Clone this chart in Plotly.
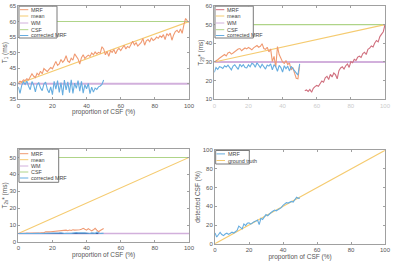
import plotly.graph_objects as go

# ---------------- data ----------------
x_full = list(range(0, 101))
x_half = list(range(0, 51))
x_tail = list(range(53, 101))

t1_mrf = [40.3,40.8,40.5,41.2,41.0,41.6,41.2,42.5,43.2,42.4,
          42.0,43.4,42.8,44.0,43.2,44.9,44.3,43.9,44.6,45.2,
          44.8,46.3,47.2,45.9,46.4,47.8,46.9,47.6,49.0,47.3,
          46.9,48.2,47.6,49.6,48.8,48.0,46.3,48.4,49.3,48.1,
          48.7,49.2,48.8,49.9,49.3,50.2,49.6,50.1,49.8,51.9,
          51.2,49.3,50.4,48.8,50.6,50.1,51.0,49.6,50.8,51.4,
          50.7,51.8,52.4,51.2,52.0,51.6,52.8,53.7,52.5,53.2,
          52.1,52.9,53.3,54.6,52.4,53.8,54.2,53.5,54.8,53.9,
          54.3,55.0,54.6,55.4,54.9,55.8,54.2,56.1,55.5,56.3,
          54.0,55.7,56.8,57.2,56.4,57.6,56.2,58.9,61.0,60.2,
          59.8]
t1_corr = [39.0,36.9,39.5,40.6,39.8,40.9,39.2,38.1,40.7,39.6,
           37.4,39.8,40.3,38.6,37.8,39.9,40.5,38.2,37.1,39.0,
           36.5,40.8,38.3,41.0,37.2,40.4,36.3,41.2,38.0,40.6,
           37.1,41.3,36.9,40.2,38.5,41.0,37.6,40.8,37.0,39.7,
           38.4,40.1,36.8,38.9,37.3,38.6,38.2,39.0,39.3,39.8,
           41.2]
t1_wm, t1_csf = 40, 60

t2_mrf = [30.0,30.5,31.2,32.0,32.8,33.5,34.0,33.2,34.8,35.3,
          34.2,34.8,35.6,36.3,36.9,37.2,36.0,36.8,37.5,37.0,
          37.8,37.2,36.5,37.6,38.2,38.8,37.9,38.4,39.8,37.2,
          36.8,37.9,35.4,37.0,30.2,33.0,27.2,38.3,34.0,31.5,
          30.0,29.2,30.8,28.6,29.5,25.8,27.1,24.0,21.3,21.0,
          28.2]
t2_mrf_tail = [14.6,15.0,14.2,15.3,13.8,15.9,16.8,17.4,
               17.0,18.6,19.8,19.2,21.5,22.3,20.6,23.4,22.0,24.1,
               23.2,21.0,25.3,26.8,27.4,26.2,28.0,28.9,27.1,30.2,
               29.6,31.4,30.8,32.6,33.1,32.4,34.5,35.2,34.0,36.8,
               37.4,38.6,38.0,40.2,41.5,40.8,43.6,44.9,46.2,50.0]
t2_corr = [24.5,27.0,26.0,27.5,27.2,26.5,28.0,27.3,28.3,27.0,
           25.8,27.8,28.5,27.2,26.0,28.8,27.5,28.6,27.0,26.8,
           28.5,27.4,29.3,28.8,27.2,29.6,28.3,27.0,28.8,27.6,
           26.2,28.4,27.8,29.0,25.8,28.6,27.4,25.0,28.2,27.0,
           24.6,28.0,26.4,27.8,25.2,27.6,26.4,24.8,23.6,23.0,
           29.0]
t2_wm, t2_csf = 30, 50

t2s_mrf = [5.0,5.0,5.1,5.0,5.1,5.2,5.1,5.2,5.2,5.3,
           5.3,5.4,5.3,5.4,5.5,5.5,6.0,5.8,6.0,6.1,
           6.2,6.2,6.4,6.5,6.6,6.9,7.1,6.8,7.0,6.7,
           7.1,6.8,7.2,7.0,7.0,7.1,7.2,7.6,8.1,7.5,
           7.0,7.9,7.4,6.6,7.2,8.1,7.0,6.1,6.8,7.3,
           8.0]
t2s_corr = [5.0,4.9,5.0,4.8,5.0,5.1,4.9,5.0,5.0,5.1,
            5.0,4.9,5.1,5.0,5.0,5.3,5.4,5.0,5.1,5.0,
            5.1,5.2,5.0,5.3,5.4,5.5,5.2,5.0,5.1,5.3,
            5.2,5.1,5.4,5.3,5.6,5.4,5.5,5.6,5.5,5.4,
            5.3,5.2,5.0,5.4,5.2,5.1,5.9,5.3,5.0,5.1,
            5.2]
t2s_wm, t2s_csf = 5, 50

det_mrf = [11.5,7.2,9.6,12.0,9.8,8.6,10.4,11.2,10.0,11.6,
           12.3,11.4,13.0,14.2,18.8,16.9,15.8,21.2,19.4,21.8,
           22.4,21.0,22.8,23.5,24.2,25.3,20.4,27.2,26.0,28.4,
           31.2,30.0,32.1,33.4,34.8,36.0,35.2,36.4,37.8,38.6,
           41.0,42.6,44.0,43.5,44.8,45.3,44.6,46.8,49.8,48.6,
           49.0]
gt_x = [0, 100]
gt_y = [0, 100]

# ---------------- styling ----------------
C_MRF = "#F09A72"
C_MRF2 = "#D0707F"
C_MEAN = "#F5CB70"
C_WM = "#D2B0DC"
C_CSF = "#AFD488"
C_BLUE = "#66ADE0"
C_NAVY = "#3A5AA0"
AX = "#a0a0a0"
TXT = "#555555"

fig = go.Figure()

def line(x, y, color, xa, ya, width=1.1):
    fig.add_trace(go.Scatter(x=x, y=y, mode="lines", xaxis=xa, yaxis=ya,
                             line=dict(color=color, width=width),
                             showlegend=False, hoverinfo="skip"))

# panel 1 (T1)
line([0, 100], [t1_wm, t1_wm], C_WM, "x", "y", 2)
line([0, 100], [t1_csf, t1_csf], C_CSF, "x", "y")
line([0, 100], [t1_wm, t1_csf], C_MEAN, "x", "y")
line(x_full, t1_mrf, C_MRF, "x", "y")
line(x_half, t1_corr, C_BLUE, "x", "y")

# panel 2 (T2)
line([0, 100], [t2_wm, t2_wm], C_WM, "x2", "y2", 2)
line([0, 100], [t2_csf, t2_csf], C_CSF, "x2", "y2")
line([0, 100], [t2_wm, t2_csf], C_MEAN, "x2", "y2")
line(x_half, t2_mrf, C_MRF, "x2", "y2")
line(x_tail, t2_mrf_tail, C_MRF2, "x2", "y2")
line(x_half, t2_corr, C_BLUE, "x2", "y2")

# panel 3 (T2*)
line([0, 100], [t2s_csf, t2s_csf], C_CSF, "x3", "y3")
line([0, 100], [t2s_wm, t2s_csf], C_MEAN, "x3", "y3")
line([0, 100], [t2s_wm, t2s_wm], C_WM, "x3", "y3", 1.5)
line(x_half, t2s_mrf, C_MRF, "x3", "y3")
line(x_half[:48], [t2s_wm] * 48, C_NAVY, "x3", "y3", 1)
line(x_half, t2s_corr, C_BLUE, "x3", "y3")

# panel 4 (detected CSF)
line(gt_x, gt_y, C_MEAN, "x4", "y4")
line(x_half, det_mrf, C_BLUE, "x4", "y4")

W, H = 400, 263
def dom_x(a, b):
    return [a / W, b / W]
def dom_y(top, bot):
    return [1 - bot / H, 1 - top / H]

FONT = "Liberation Sans"
axcommon = dict(showline=True, linecolor=AX, linewidth=1, mirror="allticks",
                ticks="inside", ticklen=2, tickcolor=AX, showgrid=False,
                zeroline=False, automargin=False,
                tickfont=dict(size=6, color=TXT, family=FONT),
                title_font=dict(size=6.5, color=TXT, family=FONT))

xtitle = dict(text="proportion of CSF (%)", standoff=1)

fig.update_layout(
    width=W, height=H, margin=dict(l=0, r=0, t=0, b=0, autoexpand=False),
    paper_bgcolor="white", plot_bgcolor="white",
    xaxis=dict(domain=dom_x(18.3, 189), range=[0, 100], dtick=20, anchor="y",
               title=xtitle, **axcommon),
    yaxis=dict(domain=dom_y(6, 99.3), range=[35, 65], dtick=5, anchor="x",
               title=dict(text="T<sub>1</sub> (ms)", standoff=1), **axcommon),
    xaxis2=dict(domain=dom_x(214.3, 385), range=[0, 100], dtick=20, anchor="y2",
                **{**axcommon, "tickfont": dict(size=6, color="#cccccc", family=FONT)}),
    yaxis2=dict(domain=dom_y(6, 99.3), range=[10, 60], dtick=10, anchor="x2",
                title=dict(text="T<sub>2|f</sub>* (ms)", standoff=1), **axcommon),
    xaxis3=dict(domain=dom_x(18.3, 189), range=[0, 100], dtick=20, anchor="y3",
                title=xtitle, **axcommon),
    yaxis3=dict(domain=dom_y(149, 242), range=[0, 55], dtick=10, anchor="x3",
                title=dict(text="T<sub>2s</sub>* (ms)", standoff=1), **axcommon),
    xaxis4=dict(domain=dom_x(215, 385), range=[0, 100], dtick=20, anchor="y4",
                title=xtitle, **axcommon),
    yaxis4=dict(domain=dom_y(150.3, 243.7), range=[0, 100], dtick=20, anchor="x4",
                title=dict(text="detected CSF (%)", standoff=1), **axcommon),
)

# ---------------- manual legends ----------------
def legend(xa, ya, x1px, top_px, bot_px, ybot_dom, entries, xdom_px):
    xl, xr = xdom_px
    pw = xr - xl
    fx1 = (x1px - xl) / pw
    fig.add_shape(type="rect", xref=f"{xa} domain", yref=f"{ya} domain",
                  x0=0.004, x1=fx1, y0=ybot_dom, y1=0.998,
                  line=dict(color="#7a7a7a", width=1), fillcolor="white", layer="above")
    for (label, color, ypx) in entries:
        fy = 1 - (ypx - top_px) / (bot_px - top_px)
        fig.add_shape(type="line", xref=f"{xa} domain", yref=f"{ya} domain",
                      x0=1.5 / pw, x1=10 / pw, y0=fy, y1=fy,
                      line=dict(color=color, width=1), layer="above")
        fig.add_annotation(xref=f"{xa} domain", yref=f"{ya} domain",
                           x=10.5 / pw, y=fy, text=label, showarrow=False,
                           xanchor="left", yanchor="middle",
                           font=dict(size=5.4, color="#444444", family=FONT))

ent5 = ["MRF", "mean", "WM", "CSF", "corrected MRF"]
cols5 = [C_MRF, C_MEAN, C_WM, C_CSF, C_BLUE]

ys1 = [9.7, 16, 23, 29.7, 35.5]
legend("x", "y", 57, 6, 99.3, 1 - (38 - 6) / 93.3,
       list(zip(ent5, cols5, ys1)), (18.3, 189))
legend("x2", "y2", 253.3, 6, 99.3, 1 - (38 - 6) / 93.3,
       list(zip(ent5, [C_MRF2, C_MEAN, C_WM, C_CSF, C_BLUE], ys1)), (214.3, 385))
ys3 = [153.7, 159.7, 166, 172, 178]
legend("x3", "y3", 58.7, 149, 242, 1 - (182.3 - 149) / 93,
       list(zip(ent5, cols5, ys3)), (18.3, 189))
legend("x4", "y4", 249.3, 150.3, 243.7, 1 - (164 - 150.3) / 93.4,
       list(zip(["MRF", "ground truth"], [C_BLUE, C_MEAN], [153.9, 160.5])), (215, 385))

fig.write_html("out.html", config={"displayModeBar": False},
               post_script="document.body.style.margin='0px';document.body.style.overflow='hidden';")
